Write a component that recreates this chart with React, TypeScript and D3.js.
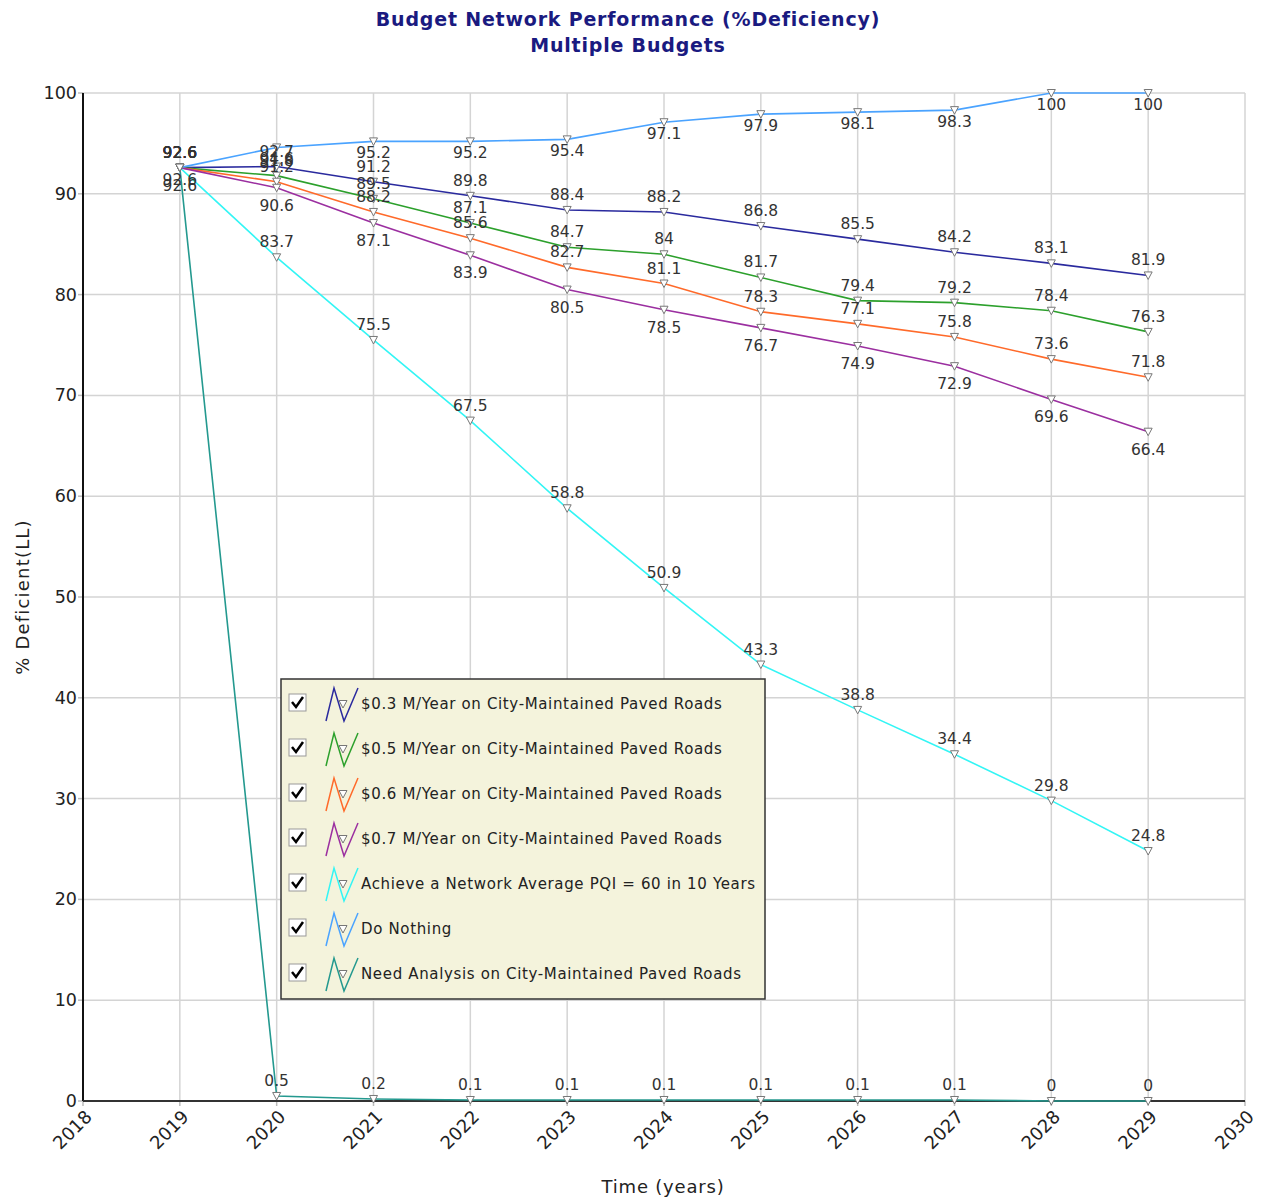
import React from "react";
import * as d3 from "d3";

const years = [2019, 2020, 2021, 2022, 2023, 2024, 2025, 2026, 2027, 2028, 2029];
const xTicks = [2018, 2019, 2020, 2021, 2022, 2023, 2024, 2025, 2026, 2027, 2028, 2029, 2030];
const yTicks = [0, 10, 20, 30, 40, 50, 60, 70, 80, 90, 100];

const seriesNames = [
  "$0.3 M/Year on City-Maintained Paved Roads",
  "$0.5 M/Year on City-Maintained Paved Roads",
  "$0.6 M/Year on City-Maintained Paved Roads",
  "$0.7 M/Year on City-Maintained Paved Roads",
  "Achieve a Network Average PQI = 60 in 10 Years",
  "Do Nothing",
  "Need Analysis on City-Maintained Paved Roads",
];
const seriesColors = ["#2a2a9e", "#2ca02c", "#ff6a2a", "#9b2fa0", "#33f5f5", "#4aa3ff", "#24998f"];
// label offset from point (baseline), negative = above
const labelOffset = [-10, -10, -10, 23, -10, 17, -10];

const budget03 = [92.6, 92.7, 91.2, 89.8, 88.4, 88.2, 86.8, 85.5, 84.2, 83.1, 81.9];
const budget05 = [92.6, 91.8, 89.5, 87.1, 84.7, 84, 81.7, 79.4, 79.2, 78.4, 76.3];
const budget06 = [92.6, 91.2, 88.2, 85.6, 82.7, 81.1, 78.3, 77.1, 75.8, 73.6, 71.8];
const budget07 = [92.6, 90.6, 87.1, 83.9, 80.5, 78.5, 76.7, 74.9, 72.9, 69.6, 66.4];
const achieve60 = [92.6, 83.7, 75.5, 67.5, 58.8, 50.9, 43.3, 38.8, 34.4, 29.8, 24.8];
const doNothing = [92.6, 94.6, 95.2, 95.2, 95.4, 97.1, 97.9, 98.1, 98.3, 100, 100];
const needAnalysis = [92.6, 0.5, 0.2, 0.1, 0.1, 0.1, 0.1, 0.1, 0.1, 0, 0];

const seriesValues = [budget03, budget05, budget06, budget07, achieve60, doNothing, needAnalysis];

const FONT = "'DejaVu Sans', Verdana, sans-serif";

const x = d3.scaleLinear().domain([2018, 2030]).range([83, 1245]);
const y = d3.scaleLinear().domain([0, 100]).range([1101, 93]);

function Marker({ cx, cy }: { cx: number; cy: number }) {
  return (
    <path
      d={`M${cx - 4},${cy - 3.5} L${cx + 4},${cy - 3.5} L${cx},${cy + 4} Z`}
      fill="#ffffff"
      stroke="#777"
      strokeWidth={1}
    />
  );
}

export default function App() {
  const line = d3
    .line<number>()
    .x((_, i) => x(years[i]))
    .y((d) => y(d));

  const legendX = 281;
  const legendY = 679;
  const legendW = 484;
  const legendH = 320;
  const rowH = 45;

  return (
    <svg
      width={1267}
      height={1201}
      style={{ position: "absolute", left: 0, top: 0, background: "#fff" }}
      fontFamily={FONT}
    >
      <rect width={1267} height={1201} fill="#fff" />
      {/* title */}
      <text x={628} y={26} textAnchor="middle" fontSize={19} letterSpacing={0.8} fontWeight="bold" fill="#1a1a80">
        Budget Network Performance (%Deficiency)
      </text>
      <text x={628} y={52} textAnchor="middle" fontSize={19} letterSpacing={0.8} fontWeight="bold" fill="#1a1a80">
        Multiple Budgets
      </text>

      {/* grid */}
      {xTicks.slice(1).map((t) => (
        <line key={"gx" + t} x1={x(t)} x2={x(t)} y1={y(0)} y2={y(100)} stroke="#d4d4d4" strokeWidth={1.5} />
      ))}
      {yTicks.slice(1).map((t) => (
        <line key={"gy" + t} x1={x(2018)} x2={x(2030)} y1={y(t)} y2={y(t)} stroke="#d4d4d4" strokeWidth={1.5} />
      ))}

      {/* ticks */}
      {xTicks.map((t) => (
        <line key={"tx" + t} x1={x(t)} x2={x(t)} y1={y(0)} y2={y(0) + 5} stroke="#bbb" strokeWidth={1.5} />
      ))}
      {yTicks.map((t) => (
        <line key={"ty" + t} x1={x(2018) - 5} x2={x(2018)} y1={y(t)} y2={y(t)} stroke="#bbb" strokeWidth={1.5} />
      ))}

      {/* axes */}
      <line x1={x(2018)} x2={x(2018)} y1={y(0)} y2={y(100)} stroke="#111" strokeWidth={2} />
      <line x1={x(2018)} x2={x(2030)} y1={y(0)} y2={y(0)} stroke="#333" strokeWidth={2} />

      {/* y tick labels */}
      {yTicks.map((t) => (
        <text key={"yl" + t} x={x(2018) - 6} y={y(t) + 6} textAnchor="end" fontSize={17.5} fill="#222">
          {t}
        </text>
      ))}
      {/* x tick labels */}
      {xTicks.map((t) => (
        <text
          key={"xl" + t}
          transform={`translate(${x(t) + 10},${y(0) + 17}) rotate(-45)`}
          textAnchor="end"
          fontSize={18}
          fill="#222"
        >
          {t}
        </text>
      ))}

      {/* axis titles */}
      <text x={663} y={1193} textAnchor="middle" fontSize={18} letterSpacing={0.8} fill="#222">
        Time (years)
      </text>
      <text transform={`translate(29,597) rotate(-90)`} textAnchor="middle" fontSize={18} letterSpacing={1.2} fill="#222">
        % Deficient(LL)
      </text>

      {/* lines */}
      {seriesValues.map((vals, si) => (
        <path key={"l" + si} d={line(vals) || ""} fill="none" stroke={seriesColors[si]} strokeWidth={1.6} />
      ))}
      {/* markers */}
      {seriesValues.map((vals, si) =>
        vals.map((v, i) => <Marker key={`m${si}-${i}`} cx={x(years[i])} cy={y(v)} />)
      )}
      {/* data labels */}
      {seriesValues.map((vals, si) =>
        vals.map((v, i) => (
          <text
            key={`d${si}-${i}`}
            x={x(years[i])}
            y={y(v) + labelOffset[si]}
            textAnchor="middle"
            fontSize={15.5}
            fill="#333"
          >
            {String(v)}
          </text>
        ))
      )}

      {/* legend */}
      <rect x={legendX} y={legendY} width={legendW} height={legendH} fill="#f4f3dc" stroke="#333" strokeWidth={1.5} />
      {seriesNames.map((name, i) => {
        const cy = legendY + 24 + i * rowH;
        const ix = legendX + 45;
        return (
          <g key={"lg" + i}>
            <rect x={legendX + 8} y={cy - 9} width={17} height={17} fill="#fff" stroke="#999" strokeWidth={1} />
            <path
              d={`M${legendX + 11},${cy - 1} L${legendX + 15},${cy + 4} L${legendX + 22},${cy - 6}`}
              fill="none"
              stroke="#000"
              strokeWidth={2.5}
            />
            <path
              d={`M${ix},${cy + 18} L${ix + 8},${cy - 15} L${ix + 18},${cy + 18} L${ix + 32},${cy - 15}`}
              fill="none"
              stroke={seriesColors[i]}
              strokeWidth={1.5}
            />
            <Marker cx={ix + 17} cy={cy + 1} />
            <text x={legendX + 80} y={cy + 6} fontSize={15} letterSpacing={0.65} fill="#222">
              {name}
            </text>
          </g>
        );
      })}
    </svg>
  );
}
